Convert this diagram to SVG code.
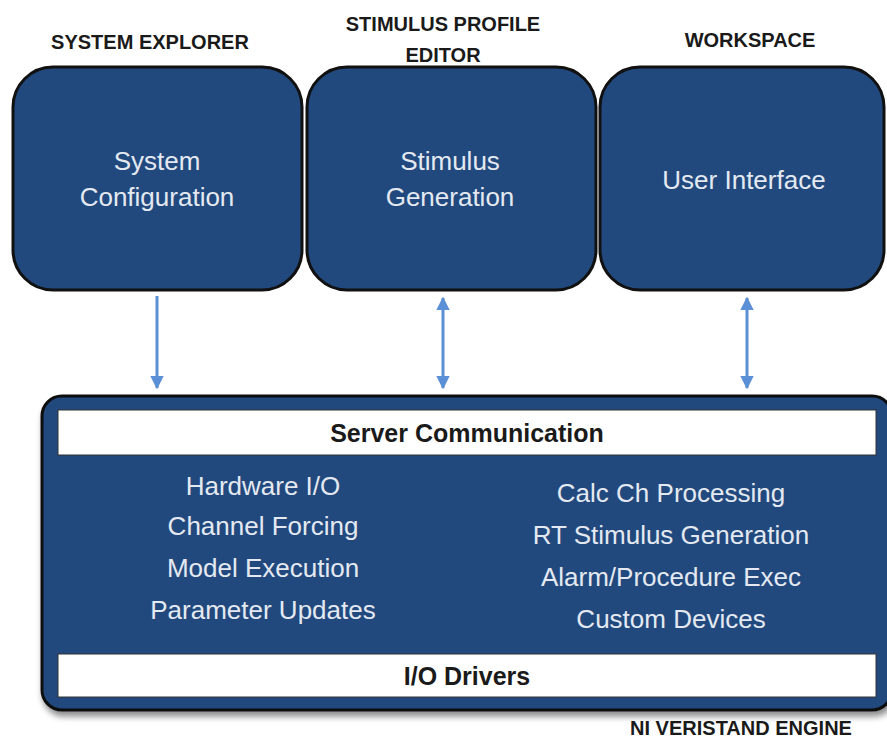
<svg xmlns="http://www.w3.org/2000/svg" width="887" height="740" viewBox="0 0 887 740">
<defs>
<style>
.box{fill:#21497e;stroke:#111;stroke-width:3}
.head{font-family:"Liberation Sans",Arial,sans-serif;font-weight:bold;font-size:20px;fill:#1a1a1a;text-anchor:middle}
.lbl{font-family:"Liberation Sans",Arial,sans-serif;font-size:26px;fill:#e4e9f1;text-anchor:middle}
.bar{fill:#fff;stroke:#333;stroke-width:1}
.bartxt{font-family:"Liberation Sans",Arial,sans-serif;font-weight:bold;font-size:25px;fill:#1a1a1a;text-anchor:middle}
.conn{stroke:#5b8fd6;stroke-width:3;fill:none}
</style>
<marker id="ah" viewBox="0 0 10 10" refX="9" refY="5" markerWidth="4.5" markerHeight="4.5" orient="auto-start-reverse"><path d="M0,0 L10,5 L0,10 z" fill="#5b8fd6"/></marker>
<filter id="sh" x="-5%" y="-5%" width="110%" height="115%"><feDropShadow dx="2" dy="5" stdDeviation="3" flood-color="#000" flood-opacity="0.45"/></filter>
</defs>
<text class="head" x="150" y="49">SYSTEM EXPLORER</text>
<text class="head" x="443" y="31">STIMULUS PROFILE</text>
<text class="head" x="443" y="62">EDITOR</text>
<text class="head" x="750" y="47">WORKSPACE</text>
<g id="sysconfig">
<rect class="box" x="13" y="67" width="289" height="223" rx="40"/>
<text class="lbl" x="157" y="170">System</text>
<text class="lbl" x="157" y="206">Configuration</text>
</g>
<g id="stimgen">
<rect class="box" x="307" y="67" width="289" height="223" rx="40"/>
<text class="lbl" x="450" y="170">Stimulus</text>
<text class="lbl" x="450" y="206">Generation</text>
</g>
<g id="ui">
<rect class="box" x="600" y="67" width="284" height="223" rx="40"/>
<text class="lbl" x="744" y="189">User Interface</text>
</g>
<g id="connectors">
<line class="conn" x1="157" y1="296" x2="157" y2="388" marker-end="url(#ah)"/>
<line class="conn" x1="443" y1="298" x2="443" y2="388" marker-start="url(#ah)" marker-end="url(#ah)"/>
<line class="conn" x1="747" y1="298" x2="747" y2="388" marker-start="url(#ah)" marker-end="url(#ah)"/>
</g>
<g id="engine">
<rect class="box" x="42" y="396" width="850" height="314" rx="20" filter="url(#sh)"/>
<rect class="bar" x="58" y="410" width="818" height="45"/>
<text class="bartxt" x="467" y="442">Server Communication</text>
<text class="lbl" x="263" y="495">Hardware I/O</text>
<text class="lbl" x="263" y="535">Channel Forcing</text>
<text class="lbl" x="263" y="577">Model  Execution</text>
<text class="lbl" x="263" y="619">Parameter Updates</text>
<text class="lbl" x="671" y="502">Calc Ch Processing</text>
<text class="lbl" x="671" y="544">RT Stimulus Generation</text>
<text class="lbl" x="671" y="586">Alarm/Procedure Exec</text>
<text class="lbl" x="671" y="628">Custom Devices</text>
<rect class="bar" x="58" y="654" width="818" height="43"/>
<text class="bartxt" x="467" y="685">I/O Drivers</text>
<text class="head" x="741" y="735">NI VERISTAND ENGINE</text>
</g>
</svg>
